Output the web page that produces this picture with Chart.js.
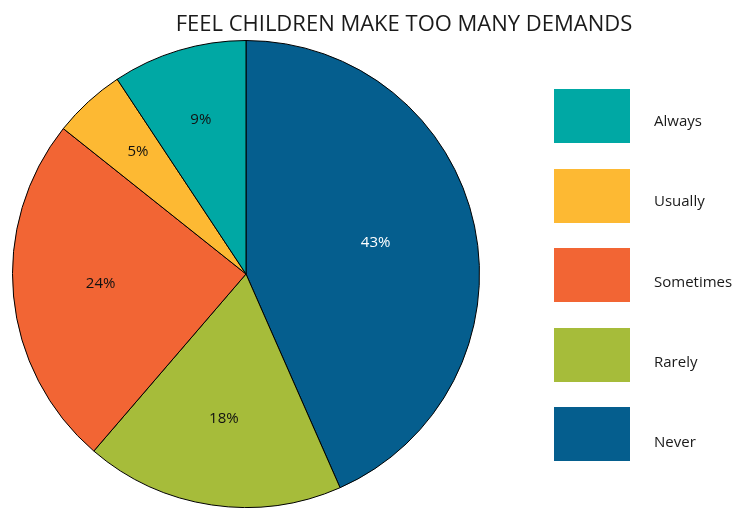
<!DOCTYPE html>
<html>
<head>
<meta charset="utf-8">
<script src="https://cdn.jsdelivr.net/npm/chart.js@4/dist/chart.umd.min.js"></script>
<style>
  html, body { margin: 0; padding: 0; background: #fff; }
  #wrap { position: relative; width: 738px; height: 508px; overflow: hidden; }
  #c { position: absolute; left: 0; top: 0; }
  #title { position: absolute; left: 0; width: 808px; top: 7px; text-align: center;
           font-family: "Open Sans", sans-serif; font-size: 22px; color: #1a1a1a; }
  .box { position: absolute; left: 554px; width: 76px; height: 54px; }
  .txt { position: absolute; left: 654px; height: 20px; line-height: 20px;
         font-family: "Open Sans", sans-serif; font-size: 15px; color: #1a1a1a; white-space: nowrap; }
</style>
</head>
<body>
<div id="wrap">
  <canvas id="c" width="738" height="508"></canvas>
  <div id="title">FEEL CHILDREN MAKE TOO MANY DEMANDS</div>
</div>
<script>
const categories = ["Never", "Rarely", "Sometimes", "Usually", "Always"];
const values = [43.4, 17.9, 24.4, 5.0, 9.3];
const colors = ["#055E8E", "#A6BC3A", "#F26534", "#FDB933", "#00A8A4"];
const labelColors = ["#ffffff", "#111111", "#111111", "#111111", "#111111"];
const legendOrder = ["Always", "Usually", "Sometimes", "Rarely", "Never"];

const sliceLabels = {
  id: 'sliceLabels',
  afterDatasetsDraw(chart) {
    const ctx = chart.ctx;
    const meta = chart.getDatasetMeta(0);
    ctx.save();
    ctx.font = '15px "Open Sans", sans-serif';
    ctx.textAlign = 'center';
    ctx.textBaseline = 'middle';
    meta.data.forEach((arc, i) => {
      const p = arc.getProps(['x', 'y', 'startAngle', 'endAngle', 'outerRadius'], true);
      const mid = (p.startAngle + p.endAngle) / 2;
      const span = (p.endAngle - p.startAngle) * 180 / Math.PI;
      const f = 0.70 - 0.00085 * span;
      const r = p.outerRadius * f;
      ctx.fillStyle = labelColors[i];
      ctx.fillText(Math.round(values[i]) + '%', p.x + Math.cos(mid) * r, p.y + Math.sin(mid) * r - 4);
    });
    ctx.restore();
  }
};

const chart = new Chart(document.getElementById('c'), {
  type: 'pie',
  data: {
    labels: categories,
    datasets: [{
      data: values,
      backgroundColor: colors,
      borderColor: '#000000',
      borderWidth: 1
    }]
  },
  options: {
    responsive: false,
    animation: false,
    layout: { padding: { left: 12, right: 258, top: 40, bottom: 0 } },
    plugins: {
      legend: { display: false },
      tooltip: { enabled: false },
      title: { display: false }
    }
  },
  plugins: [sliceLabels]
});

const wrap = document.getElementById('wrap');
legendOrder.forEach((name, k) => {
  const i = categories.indexOf(name);
  const b = document.createElement('div');
  b.className = 'box';
  b.style.top = (89 + k * 79.5) + 'px';
  b.style.background = colors[i];
  const t = document.createElement('div');
  t.className = 'txt';
  t.style.top = (110 + k * 80.25) + 'px';
  t.textContent = name;
  wrap.appendChild(b);
  wrap.appendChild(t);
});
</script>
</body>
</html>
